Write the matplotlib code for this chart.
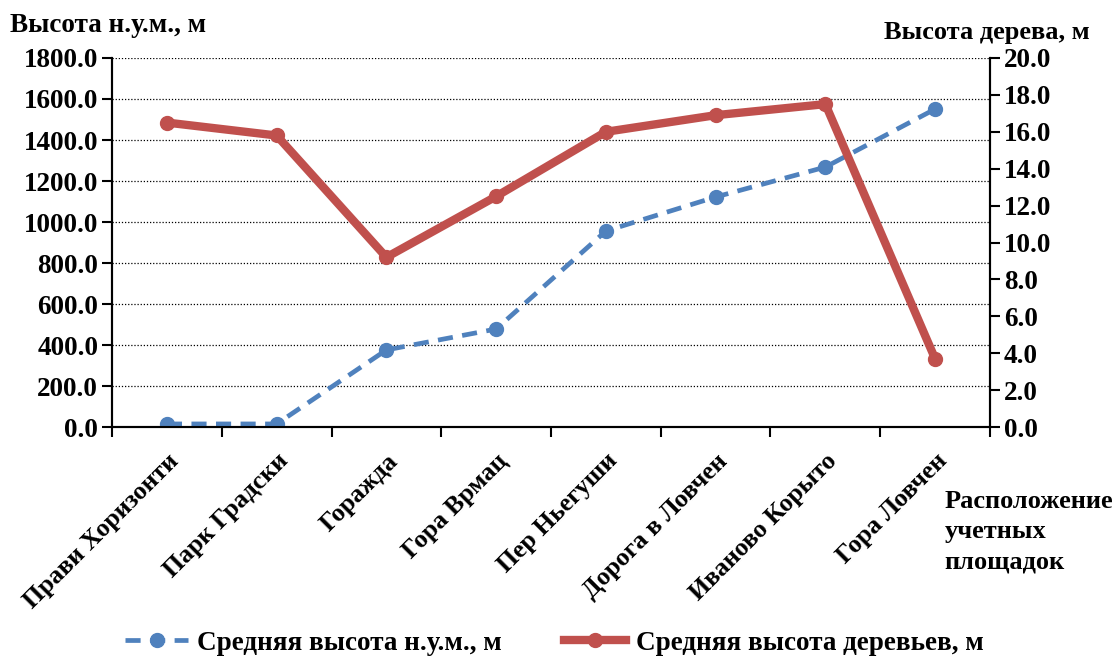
import matplotlib
matplotlib.use("Agg")
import matplotlib.pyplot as plt
from matplotlib.ticker import MultipleLocator, FixedLocator, FormatStrFormatter

categories = ["Прави Хоризонти", "Парк Градски", "Горажда", "Гора Врмац",
              "Пер Ньегуши", "Дорога в Ловчен", "Иваново Корыто", "Гора Ловчен"]
altitude = [15, 15, 376, 478, 956, 1122, 1268, 1551]
tree_height = [16.5, 15.8, 9.2, 12.5, 16.0, 16.9, 17.5, 3.7]

plt.rcParams['font.family'] = ['Liberation Serif', 'DejaVu Serif']
plt.rcParams['font.weight'] = 'bold'
FS = 19.5

fig = plt.figure(figsize=(11.18, 6.59), dpi=100)
ax = fig.add_axes([0.1002, 0.352, 0.7853, 0.560])
ax2 = ax.twinx()

x = list(range(len(categories)))
blue = '#4F81BD'
red = '#C0504D'
l1, = ax.plot(x, altitude, color=blue, lw=3.4, ls=(0, (3.2, 2)), marker='o', ms=10,
              label='Средняя высота н.у.м., м', zorder=3)
l2, = ax2.plot(x, tree_height, color=red, lw=6, marker='o', ms=10,
               label='Средняя высота деревьев, м', zorder=3)

ax.set_xlim(-0.5, len(categories) - 0.5)
ax.set_ylim(0, 1800)
ax2.set_ylim(0, 20)
ax.yaxis.set_major_locator(MultipleLocator(200))
ax2.yaxis.set_major_locator(MultipleLocator(2))
ax.yaxis.set_major_formatter(FormatStrFormatter('%.1f'))
ax2.yaxis.set_major_formatter(FormatStrFormatter('%.1f'))
ax.grid(axis='y', color='black', ls=(0, (1, 1.5)), lw=0.9)
ax.set_axisbelow(True)

ax.set_xticks(x)
ax.set_xticklabels(categories, rotation=45, ha='right', rotation_mode='anchor',
                   fontsize=18.5, fontweight='bold')
ax.tick_params(axis='x', which='major', length=0, pad=16)
ax.xaxis.set_minor_locator(FixedLocator([i - 0.5 for i in range(len(categories) + 1)]))
ax.tick_params(axis='x', which='minor', length=7, width=1.5, direction='out')

for a in (ax, ax2):
    for s in a.spines.values():
        s.set_linewidth(1.5)
    a.spines['top'].set_visible(False)
ax.tick_params(axis='y', labelsize=FS, length=7, width=1.5, direction='out', pad=3)
ax2.tick_params(axis='y', labelsize=FS, length=7, width=1.5, direction='out', pad=3)
for lab in ax.get_yticklabels() + ax2.get_yticklabels():
    lab.set_fontweight('bold')

fig.text(0.009, 0.962, 'Высота н.у.м., м', fontsize=FS, fontweight='bold', ha='left', va='center')
fig.text(0.975, 0.951, 'Высота дерева, м', fontsize=19, fontweight='bold', ha='right', va='center')
fig.text(0.845, 0.193, 'Расположение\nучетных\nплощадок', fontsize=19, fontweight='bold',
         ha='left', va='center', linespacing=1.4)

fig.legend(handles=[l1, l2], loc='center', bbox_to_anchor=(0.496, 0.024), ncol=2,
           frameon=False, fontsize=FS, handlelength=2.3, columnspacing=2.3,
           handletextpad=0.35)

fig.savefig('out.png', dpi=100)
